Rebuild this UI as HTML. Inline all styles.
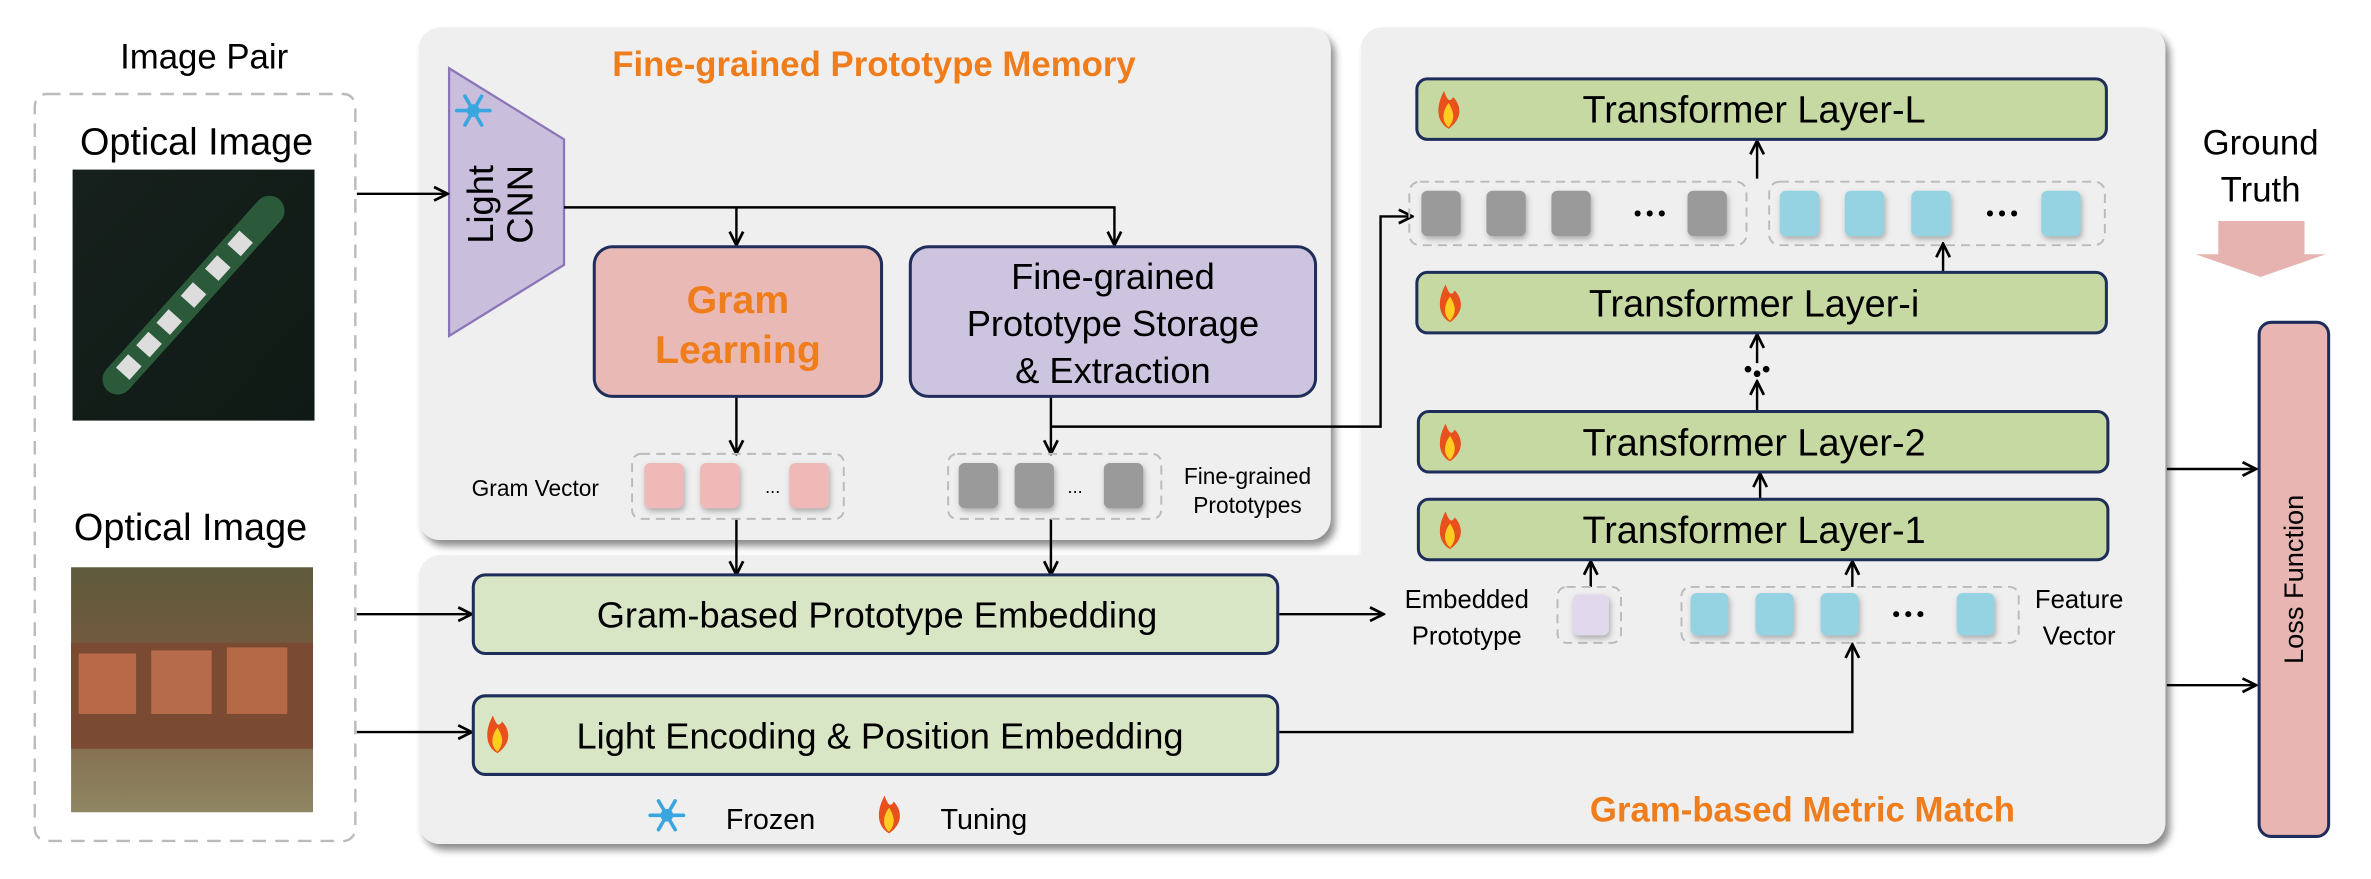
<!DOCTYPE html>
<html><head><meta charset="utf-8"><style>
html,body{margin:0;padding:0;background:#fff;}
svg{display:block;}
text{font-family:"Liberation Sans","DejaVu Sans",sans-serif;}
</style></head><body>
<svg width="2371" height="879" viewBox="0 0 1568 581" xmlns="http://www.w3.org/2000/svg">
<defs>
<marker id="a" viewBox="0 0 10 10" refX="9" refY="5" markerWidth="7" markerHeight="7" orient="auto-start-reverse"><path d="M1,1 L9,5 L1,9" fill="none" stroke="#000" stroke-width="1.6"/></marker>
<filter id="sh" x="-5%" y="-5%" width="110%" height="115%"><feDropShadow dx="3" dy="4" stdDeviation="2.5" flood-color="#000" flood-opacity="0.45"/></filter>
<filter id="bl" x="-30%" y="-30%" width="160%" height="160%"><feDropShadow dx="1" dy="2" stdDeviation="2" flood-color="#666" flood-opacity="0.5"/></filter>
<linearGradient id="img1" x1="0" y1="0" x2="1" y2="1"><stop offset="0" stop-color="#17201c"/><stop offset="1" stop-color="#0f1a15"/></linearGradient>
<linearGradient id="img2" x1="0" y1="0" x2="0" y2="1"><stop offset="0" stop-color="#5f5a3c"/><stop offset="0.45" stop-color="#7a5a3f"/><stop offset="1" stop-color="#8f8662"/></linearGradient>
<g id="fire"><path d="M0,13 C-9,8 -8,-3 -3,-12 C-1,-6 1,-4 3,-8 C8,-3 10,6 0,13Z" fill="#e8501c"/><path d="M0,12 C-5,8 -4,1 0,-4 C3,1 5,6 0,12Z" fill="#ffcc22"/></g>
<g id="snow" stroke="#3aa6e0" stroke-width="2.4" stroke-linecap="round"><line x1="-11" y1="0" x2="11" y2="0"/><line x1="-5.5" y1="-9.5" x2="5.5" y2="9.5"/><line x1="-5.5" y1="9.5" x2="5.5" y2="-9.5"/><circle r="3" fill="#3aa6e0"/></g>
</defs>
<rect width="1568" height="581" fill="#fff"/>

<!-- left -->
<text x="135" y="45" font-size="23" text-anchor="middle">Image Pair</text>
<rect x="23" y="62" width="212" height="494" rx="8" fill="none" stroke="#bbb" stroke-width="1.6" stroke-dasharray="9,6"/>
<text x="130" y="102" font-size="25" text-anchor="middle">Optical Image</text>
<rect x="48" y="112" width="160" height="166" fill="url(#img1)"/>
<g transform="translate(128,195) rotate(-48)"><rect x="-85" y="-10" width="170" height="20" rx="10" fill="#2b5a3a"/><rect x="-70" y="-6" width="12" height="12" fill="#ddd"/><rect x="-50" y="-6" width="12" height="12" fill="#ddd"/><rect x="-30" y="-6" width="12" height="12" fill="#ddd"/><rect x="-6" y="-6" width="12" height="12" fill="#ddd"/><rect x="18" y="-6" width="12" height="12" fill="#ddd"/><rect x="40" y="-6" width="12" height="12" fill="#ddd"/></g>
<text x="126" y="357" font-size="25" text-anchor="middle">Optical Image</text>
<rect x="47" y="375" width="160" height="162" fill="url(#img2)"/>
<rect x="47" y="425" width="160" height="70" fill="#7b4a32"/>
<rect x="52" y="432" width="38" height="40" fill="#b86a48"/><rect x="100" y="430" width="40" height="42" fill="#b66c4a"/><rect x="150" y="428" width="40" height="44" fill="#b56846"/>

<!-- panels -->
<rect x="277" y="18" width="603" height="339" rx="14" fill="#efefef" filter="url(#sh)"/>
<g filter="url(#sh)">
<rect x="277" y="367" width="1155" height="191" rx="14" fill="#efefef"/>
<rect x="900" y="18" width="532" height="540" rx="14" fill="#efefef"/>
</g>

<text x="578" y="50" font-size="23" font-weight="bold" fill="#ef7d1c" text-anchor="middle">Fine-grained Prototype Memory</text>
<text x="1192" y="543" font-size="23" font-weight="bold" fill="#ef7d1c" text-anchor="middle">Gram-based Metric Match</text>

<!-- Light CNN -->
<polygon points="297,45 373,92 373,175 297,222" fill="#c9bfdc" stroke="#8a75b8" stroke-width="1.5"/>
<use href="#snow" x="313" y="73"/>
<text transform="translate(326,135) rotate(-90)" font-size="24" text-anchor="middle">Light</text>
<text transform="translate(352,135) rotate(-90)" font-size="24" text-anchor="middle">CNN</text>

<g fill="none" stroke="#000" stroke-width="1.6">
<line x1="236" y1="128" x2="296" y2="128" marker-end="url(#a)"/>
<polyline points="373,137 737,137 737,162" marker-end="url(#a)"/>
<line x1="487" y1="137" x2="487" y2="162" marker-end="url(#a)"/>
<line x1="487" y1="262" x2="487" y2="300" marker-end="url(#a)"/>
<line x1="695" y1="262" x2="695" y2="300" marker-end="url(#a)"/>
<polyline points="695,282 913,282 913,143 934,143" marker-end="url(#a)"/>
<line x1="487" y1="343" x2="487" y2="380" marker-end="url(#a)"/>
<line x1="695" y1="343" x2="695" y2="380" marker-end="url(#a)"/>
<line x1="236" y1="406" x2="312" y2="406" marker-end="url(#a)"/>
<line x1="236" y1="484" x2="312" y2="484" marker-end="url(#a)"/>
<line x1="846" y1="406" x2="915" y2="406" marker-end="url(#a)"/>
<polyline points="846,484 1225,484 1225,426" marker-end="url(#a)"/>
<line x1="1052" y1="388" x2="1052" y2="371" marker-end="url(#a)"/>
<line x1="1225" y1="388" x2="1225" y2="371" marker-end="url(#a)"/>
<line x1="1164" y1="330" x2="1164" y2="313" marker-end="url(#a)"/>
<line x1="1162" y1="272" x2="1162" y2="252" marker-end="url(#a)"/>
<line x1="1162" y1="240" x2="1162" y2="221" marker-end="url(#a)"/>
<line x1="1285" y1="180" x2="1285" y2="161" marker-end="url(#a)"/>
<line x1="1162" y1="118" x2="1162" y2="93" marker-end="url(#a)"/>
<line x1="1433" y1="310" x2="1492" y2="310" marker-end="url(#a)"/>
<line x1="1433" y1="453" x2="1492" y2="453" marker-end="url(#a)"/>
</g>

<!-- boxes -->
<rect x="393" y="163" width="190" height="99" rx="12" fill="#e8b9b5" stroke="#1f2d5a" stroke-width="2"/>
<text x="488" y="207" font-size="26" font-weight="bold" fill="#ef7d1c" text-anchor="middle">Gram</text>
<text x="488" y="240" font-size="26" font-weight="bold" fill="#ef7d1c" text-anchor="middle">Learning</text>
<rect x="602" y="163" width="268" height="99" rx="12" fill="#cdc4df" stroke="#1f2d5a" stroke-width="2"/>
<text x="736" y="191" font-size="24" text-anchor="middle">Fine-grained</text>
<text x="736" y="222" font-size="24" text-anchor="middle">Prototype Storage</text>
<text x="736" y="253" font-size="24" text-anchor="middle">&amp; Extraction</text>

<!-- gram vector -->
<text x="354" y="328" font-size="15" text-anchor="middle">Gram Vector</text>
<rect x="418" y="300" width="140" height="43" rx="6" fill="none" stroke="#bbb" stroke-width="1.3" stroke-dasharray="6,4"/>
<g fill="#efb9b7" filter="url(#bl)"><rect x="426" y="306" width="26" height="30" rx="4"/><rect x="463" y="306" width="26" height="30" rx="4"/><rect x="522" y="306" width="26" height="30" rx="4"/></g>
<text x="506" y="326" font-size="12">...</text>
<rect x="627" y="300" width="141" height="43" rx="6" fill="none" stroke="#bbb" stroke-width="1.3" stroke-dasharray="6,4"/>
<g fill="#9a9a9a" filter="url(#bl)"><rect x="634" y="306" width="26" height="30" rx="4"/><rect x="671" y="306" width="26" height="30" rx="4"/><rect x="730" y="306" width="26" height="30" rx="4"/></g>
<text x="706" y="326" font-size="12">...</text>
<text x="825" y="320" font-size="15" text-anchor="middle">Fine-grained</text>
<text x="825" y="339" font-size="15" text-anchor="middle">Prototypes</text>

<!-- embedding boxes -->
<rect x="313" y="380" width="532" height="52" rx="8" fill="#d8e6c5" stroke="#1f2d5a" stroke-width="2"/>
<text x="580" y="415" font-size="24" text-anchor="middle">Gram-based Prototype Embedding</text>
<rect x="313" y="460" width="532" height="52" rx="8" fill="#d8e6c5" stroke="#1f2d5a" stroke-width="2"/>
<use href="#fire" x="329" y="485"/>
<text x="582" y="495" font-size="24" text-anchor="middle">Light Encoding &amp; Position Embedding</text>

<!-- embedded / feature -->
<text x="970" y="402" font-size="17" text-anchor="middle">Embedded</text>
<text x="970" y="426" font-size="17" text-anchor="middle">Prototype</text>
<rect x="1030" y="388" width="42" height="37" rx="6" fill="none" stroke="#bbb" stroke-width="1.3" stroke-dasharray="6,4"/>
<rect x="1040" y="393" width="24" height="27" rx="4" fill="#e2d8ee" filter="url(#bl)"/>
<rect x="1112" y="388" width="223" height="37" rx="6" fill="none" stroke="#bbb" stroke-width="1.3" stroke-dasharray="6,4"/>
<g fill="#95d3e3" filter="url(#bl)"><rect x="1118" y="392" width="25" height="28" rx="4"/><rect x="1161" y="392" width="25" height="28" rx="4"/><rect x="1204" y="392" width="25" height="28" rx="4"/><rect x="1294" y="392" width="25" height="28" rx="4"/></g>
<g fill="#000"><circle cx="1254" cy="406" r="2"/><circle cx="1262" cy="406" r="2"/><circle cx="1270" cy="406" r="2"/></g>
<text x="1375" y="402" font-size="17" text-anchor="middle">Feature</text>
<text x="1375" y="426" font-size="17" text-anchor="middle">Vector</text>

<!-- transformer layers -->
<g fill="#c6d9a2" stroke="#1f2d5a" stroke-width="2">
<rect x="937" y="52" width="456" height="40" rx="7"/>
<rect x="937" y="180" width="456" height="40" rx="7"/>
<rect x="938" y="272" width="456" height="40" rx="7"/>
<rect x="938" y="330" width="456" height="40" rx="7"/>
</g>
<use href="#fire" x="958" y="72"/><use href="#fire" x="959" y="200"/><use href="#fire" x="959" y="292"/><use href="#fire" x="959" y="350"/>
<g font-size="25" text-anchor="middle"><text x="1160" y="81">Transformer Layer-L</text><text x="1160" y="209">Transformer Layer-i</text><text x="1160" y="301">Transformer Layer-2</text><text x="1160" y="359">Transformer Layer-1</text></g>
<g fill="#000"><circle cx="1156" cy="244" r="2.2"/><circle cx="1168" cy="244" r="2.2"/><circle cx="1162" cy="247" r="2.2"/></g>

<!-- token row -->
<rect x="932" y="120" width="223" height="42" rx="7" fill="none" stroke="#bbb" stroke-width="1.3" stroke-dasharray="6,4"/>
<g fill="#9a9a9a" filter="url(#bl)"><rect x="940" y="126" width="26" height="30" rx="4"/><rect x="983" y="126" width="26" height="30" rx="4"/><rect x="1026" y="126" width="26" height="30" rx="4"/><rect x="1116" y="126" width="26" height="30" rx="4"/></g>
<g fill="#000"><circle cx="1083" cy="141" r="2"/><circle cx="1091" cy="141" r="2"/><circle cx="1099" cy="141" r="2"/></g>
<rect x="1170" y="120" width="222" height="42" rx="7" fill="none" stroke="#bbb" stroke-width="1.3" stroke-dasharray="6,4"/>
<g fill="#95d3e3" filter="url(#bl)"><rect x="1177" y="126" width="26" height="30" rx="4"/><rect x="1220" y="126" width="26" height="30" rx="4"/><rect x="1264" y="126" width="26" height="30" rx="4"/><rect x="1350" y="126" width="26" height="30" rx="4"/></g>
<g fill="#000"><circle cx="1316" cy="141" r="2"/><circle cx="1324" cy="141" r="2"/><circle cx="1332" cy="141" r="2"/></g>

<!-- ground truth & loss -->
<text x="1495" y="102" font-size="23" text-anchor="middle">Ground</text>
<text x="1495" y="133" font-size="23" text-anchor="middle">Truth</text>
<polygon points="1467,146 1524,146 1524,168 1538,168 1495,183 1452,168 1467,168" fill="#e7b3b0"/>
<rect x="1494" y="213" width="46" height="340" rx="8" fill="#e8b5b2" stroke="#1f2d5a" stroke-width="2"/>
<text transform="translate(1523,383) rotate(-90)" font-size="18" text-anchor="middle">Loss Function</text>

<!-- legend -->
<use href="#snow" x="441" y="539"/>
<text x="480" y="548" font-size="19">Frozen</text>
<use href="#fire" x="588" y="538"/>
<text x="622" y="548" font-size="19">Tuning</text>
</svg>
</body></html>
